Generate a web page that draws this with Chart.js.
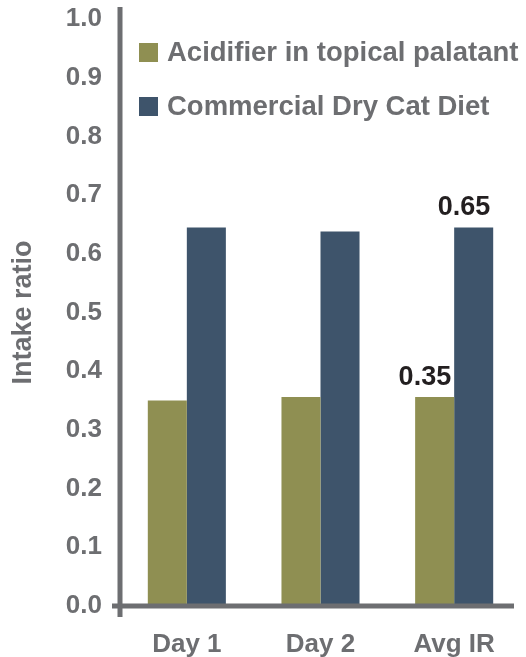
<!DOCTYPE html>
<html>
<head>
<meta charset="utf-8">
<script src="https://cdn.jsdelivr.net/npm/chart.js@4/dist/chart.umd.min.js"></script>
<style>
    html, body { margin: 0; padding: 0; background: #fff; }
    #wrap { width: 526px; height: 657px; position: relative; }
</style>
</head>
<body>
<div id="wrap"><canvas id="intakeChart"></canvas></div>
<script>
const categories = ['Day 1', 'Day 2', 'Avg IR'];
const seriesNames = ['Acidifier in topical palatant', 'Commercial Dry Cat Diet'];
const acidifierValues = [0.35, 0.356, 0.356];
const commercialValues = [0.645, 0.638, 0.645];
const acidifierLabels = ['', '', '0.35'];
const commercialLabels = ['', '', '0.65'];
const yTicks = [0, 0.1, 0.2, 0.3, 0.4, 0.5, 0.6, 0.7, 0.8, 0.9, 1.0];

const FONT = '"Liberation Sans", Arial, Helvetica, sans-serif';
const GREY = '#6d6e71';
const OLIVE = '#8f8f52';
const SLATE = '#3e546b';

// axis lines cross at the origin, like the original
const axisLines = {
    id: 'axisLines',
    afterDatasetsDraw(chart) {
        const { ctx, chartArea, scales } = chart;
        const y0 = scales.y.getPixelForValue(0);
        const y1 = scales.y.getPixelForValue(1);
        ctx.save();
        ctx.strokeStyle = GREY;
        ctx.lineWidth = 5;
        ctx.beginPath();
        ctx.moveTo(chartArea.left, y1 - 12);
        ctx.lineTo(chartArea.left, y0 + 11);
        ctx.moveTo(chartArea.left - 8, y0);
        ctx.lineTo(chartArea.right - 7, y0);
        ctx.stroke();
        ctx.restore();
    }
};

// legend sits inside the plot, top left
const boxLegend = {
    id: 'boxLegend',
    afterDraw(chart) {
        const { ctx, chartArea } = chart;
        ctx.save();
        chart.data.datasets.forEach((ds, i) => {
            const top = chartArea.top + 24 + i * 54;
            ctx.fillStyle = ds.backgroundColor;
            ctx.fillRect(chartArea.left + 19, top, 19, 19);
            ctx.fillStyle = GREY;
            ctx.font = `bold 27.5px ${FONT}`;
            ctx.textBaseline = 'middle';
            ctx.textAlign = 'left';
            ctx.fillText(ds.label, chartArea.left + 47, top + 10);
        });
        ctx.restore();
    }
};

const valueText = {
    id: 'valueText',
    afterDatasetsDraw(chart) {
        const { ctx } = chart;
        ctx.save();
        ctx.fillStyle = '#231f20';
        ctx.font = `bold 27px ${FONT}`;
        ctx.textAlign = 'right';
        ctx.textBaseline = 'alphabetic';
        chart.data.datasets.forEach((ds, i) => {
            chart.getDatasetMeta(i).data.forEach((bar, j) => {
                const txt = ds.valueLabels[j];
                if (!txt) return;
                ctx.fillText(txt, bar.x + bar.width / 2 - 3, bar.y - 12);
            });
        });
        ctx.restore();
    }
};

new Chart(document.getElementById('intakeChart'), {
    type: 'bar',
    data: {
        labels: categories,
        datasets: [{
            label: seriesNames[0],
            data: acidifierValues,
            valueLabels: acidifierLabels,
            backgroundColor: OLIVE,
            borderWidth: 0,
        }, {
            label: seriesNames[1],
            data: commercialValues,
            valueLabels: commercialLabels,
            backgroundColor: SLATE,
            borderWidth: 0,
        }]
    },
    options: {
        responsive: true,
        maintainAspectRatio: false,
        animation: false,
        categoryPercentage: 0.584,
        barPercentage: 1.0,
        layout: { padding: { top: 19, right: 5, bottom: 0, left: 0 } },
        plugins: {
            legend: { display: false },
            tooltip: { enabled: false },
        },
        scales: {
            x: {
                grid: { display: false },
                border: { display: false },
                ticks: {
                    color: GREY,
                    padding: 15,
                    font: { family: FONT, size: 26, weight: 'bold' },
                },
                afterFit(scale) { scale.height = 51; },
            },
            y: {
                min: 0,
                max: 1,
                afterBuildTicks(scale) { scale.ticks = yTicks.map(v => ({ value: v })); },
                grid: { display: false },
                border: { display: false },
                ticks: {
                    color: GREY,
                    padding: 10,
                    font: { family: FONT, size: 26, weight: 'bold' },
                    callback: v => Number(v).toFixed(1),
                },
                title: {
                    display: true,
                    text: 'Intake ratio',
                    color: GREY,
                    padding: { top: 7, bottom: 0 },
                    font: { family: FONT, size: 27, weight: 'bold' },
                },
                afterFit(scale) {
                    scale.width = 120;
                    scale.paddingTop = 0;
                    scale.paddingBottom = 0;
                },
            }
        }
    },
    plugins: [axisLines, boxLegend, valueText]
});
</script>
</body>
</html>
